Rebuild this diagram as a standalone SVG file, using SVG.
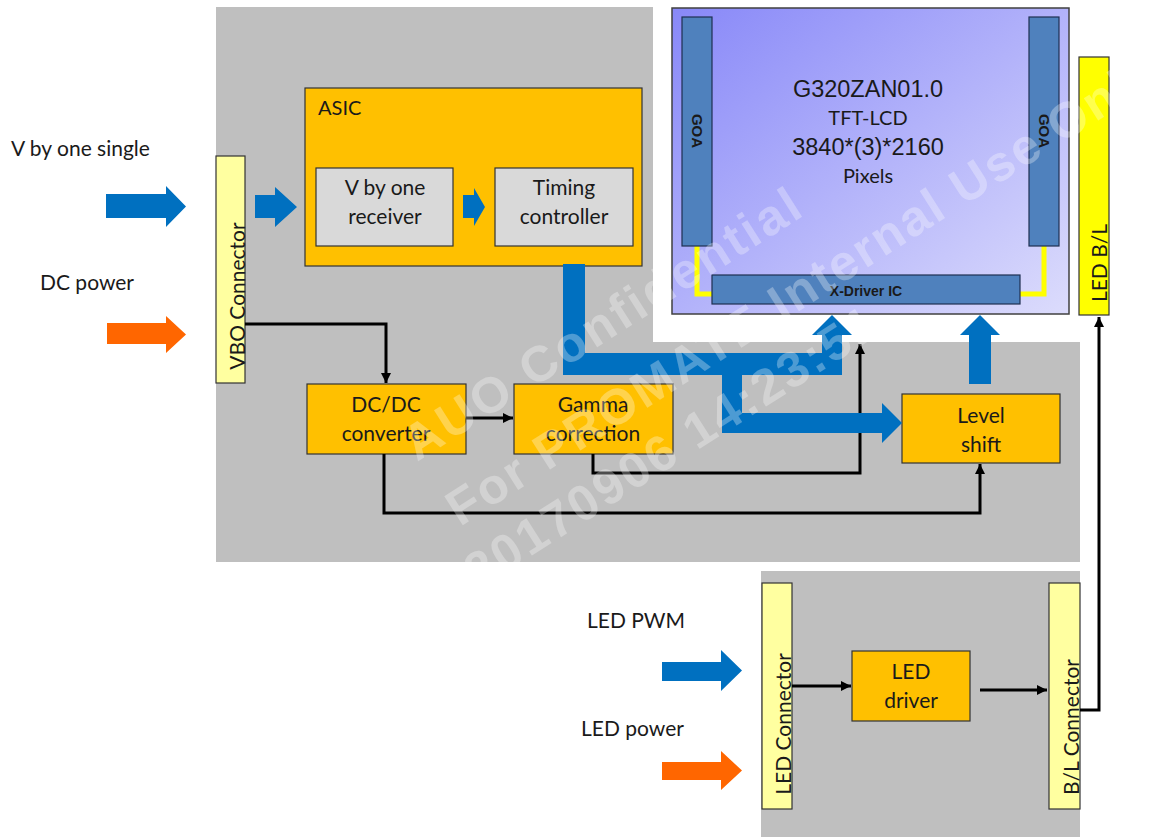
<svg xmlns="http://www.w3.org/2000/svg" width="1172" height="837" viewBox="0 0 1172 837">
<defs>
<linearGradient id="panelGrad" x1="0" y1="0" x2="1" y2="1">
<stop offset="0" stop-color="#8888F8"/>
<stop offset="1" stop-color="#DCDCFC"/>
</linearGradient>
<marker id="ah" markerUnits="userSpaceOnUse" markerWidth="11" markerHeight="11" refX="10" refY="5" orient="auto">
<path d="M0,0 L10,5 L0,10 Z" fill="#000"/>
</marker>
<style>
.bg{fill:#BFBFBF}
.box{fill:#FFC000;stroke:#333;stroke-width:1.2}
.inner{fill:#D9D9D9;stroke:#333;stroke-width:1.2}
.conn{fill:#FFFFA0;stroke:#333;stroke-width:1.2}
.bl{fill:#FFFF00;stroke:#333;stroke-width:1.2}
.goa{fill:#4F81BD;stroke:#1F3050;stroke-width:1.2}
.lbl{font-family:Lato,"Liberation Sans",sans-serif;font-size:21px;fill:#1a1a1a}
.mid{text-anchor:middle}
.ar{font-family:"Liberation Sans",Arial,sans-serif;fill:#1a1a1a;text-anchor:middle}
.sm{font-family:"Liberation Sans",Arial,sans-serif;font-weight:bold;font-size:15px;fill:#1a1a1a;text-anchor:middle}
.wire{fill:none;stroke:#000;stroke-width:3;marker-end:url(#ah)}
.blue{fill:#0070C0}
.orange{fill:#FF6600}
.wm{font-family:"Liberation Sans",Arial,sans-serif;font-weight:bold;font-size:50px;fill:#fff;fill-opacity:0.3}
</style>
</defs>
<rect width="1172" height="837" fill="#fff"/>
<path class="bg" d="M216,7 H653 V342 H1080 V562 H216 Z"/>
<rect class="bg" x="761" y="571" width="319" height="266"/>

<g id="labels">
<text class="lbl" x="11" y="156">V by one single</text>
<text class="lbl" x="40" y="290">DC power</text>
<text class="lbl" x="587" y="628">LED PWM</text>
<text class="lbl" x="581" y="736">LED power</text>
</g>

<g id="vbo-connector">
<rect class="conn" x="216" y="156" width="29" height="227"/>
<text class="lbl mid" transform="translate(245,296) rotate(-90)">VBO Connector</text>
</g>

<g id="asic">
<rect class="box" x="305" y="88" width="337" height="178"/>
<text class="lbl" x="318" y="115" style="font-size:20px">ASIC</text>
</g>
<g id="vbyone-receiver">
<rect class="inner" x="316" y="168" width="137" height="78"/>
<text class="lbl mid" x="385" y="195">V by one</text>
<text class="lbl mid" x="385" y="224">receiver</text>
</g>
<g id="timing-controller">
<rect class="inner" x="495" y="168" width="138" height="78"/>
<text class="lbl mid" x="564" y="195">Timing</text>
<text class="lbl mid" x="564" y="224">controller</text>
</g>

<g id="dcdc">
<rect class="box" x="307" y="384" width="159" height="70"/>
<text class="lbl mid" x="386" y="412">DC/DC</text>
<text class="lbl mid" x="386" y="441">converter</text>
</g>
<g id="gamma">
<rect class="box" x="514" y="384" width="159" height="70"/>
<text class="lbl mid" x="593" y="412">Gamma</text>
<text class="lbl mid" x="593" y="441">correction</text>
</g>
<g id="level-shift">
<rect class="box" x="902" y="394" width="158" height="69"/>
<text class="lbl mid" x="981" y="423">Level</text>
<text class="lbl mid" x="981" y="452">shift</text>
</g>

<g id="panel">
<rect x="672" y="8" width="397" height="306" fill="url(#panelGrad)" stroke="#404040" stroke-width="1.5"/>
<path d="M697,246 V294 H712 M1020,294 H1044 V246" fill="none" stroke="#FFFF00" stroke-width="5"/>
<text class="ar" x="868" y="97" style="font-size:23.5px">G320ZAN01.0</text>
<text class="lbl mid" x="868" y="125" style="font-size:20px">TFT-LCD</text>
<text class="ar" x="868" y="155" style="font-size:23.5px">3840*(3)*2160</text>
<text class="lbl mid" x="868" y="183" style="font-size:20px">Pixels</text>
</g>
<g id="goa-left">
<rect class="goa" x="682" y="17" width="30" height="229"/>
<text class="sm" transform="translate(692,131) rotate(90)">GOA</text>
</g>
<g id="goa-right">
<rect class="goa" x="1029" y="17" width="30" height="229"/>
<text class="sm" transform="translate(1039,131) rotate(90)">GOA</text>
</g>
<g id="x-driver">
<rect class="goa" x="712" y="275" width="308" height="29"/>
<text class="sm" x="866" y="296" style="font-size:14px">X-Driver IC</text>
</g>

<g id="led-bl">
<rect class="bl" x="1079" y="57" width="30" height="258"/>
<text class="lbl mid" transform="translate(1107,263) rotate(-90)">LED B/L</text>
</g>

<g id="led-connector">
<rect class="conn" x="762" y="583" width="30" height="226"/>
<text class="lbl mid" transform="translate(791,724) rotate(-90)">LED Connector</text>
</g>
<g id="led-driver">
<rect class="box" x="852" y="651" width="118" height="70"/>
<text class="lbl mid" x="911" y="679">LED</text>
<text class="lbl mid" x="911" y="708">driver</text>
</g>
<g id="bl-connector">
<rect class="conn" x="1049" y="583" width="31" height="226"/>
<text class="lbl mid" transform="translate(1079,727) rotate(-90)">B/L Connector</text>
</g>

<g id="connectors">
<path class="wire" d="M245,324 H386 V383"/>
<path class="wire" d="M466,418 H513"/>
<path class="wire" d="M384,454 V513 H980 V464"/>
<path class="wire" d="M593,454 V473 H860 V344"/>
<path class="wire" d="M792,686 H851"/>
<path class="wire" d="M980,690 H1047"/>
<path class="wire" d="M1080,710 H1099 V317"/>
<polygon class="blue" points="106,194 166,194 166,186 186,206.5 166,227 166,218 106,218"/>
<polygon class="orange" points="107,323 166,323 166,316 186,334.5 166,353 166,344 107,344"/>
<polygon class="blue" points="255,195 275,195 275,187 297,207 275,227 275,218 255,218"/>
<polygon class="blue" points="463,195 474,195 474,188 485,207 474,226 474,218 463,218"/>
<polygon class="blue" points="563,264 585,264 585,353 822,353 822,335 812,335 832,315 852,335 842,335 842,375 742,375 742,413 882,413 882,403 902,423 882,443 882,433 722,433 722,375 563,375"/>
<polygon class="blue" points="969,384 969,335 960,335 980,315 1000,335 991,335 991,384"/>
<polygon class="blue" points="662,662 721,662 721,650 742,670.5 721,691 721,681 662,681"/>
<polygon class="orange" points="662,762 721,762 721,751 742,770.5 721,790 721,780 662,780"/>
</g>

<g id="watermark">
<text class="wm" transform="translate(417,462) rotate(-32.5)" textLength="460">AUO Confidential</text>
<text class="wm" transform="translate(460,527) rotate(-32.5)" textLength="830">For PROMATE Internal Use Only</text>
<text class="wm" transform="translate(478,590) rotate(-32.5)" textLength="478">20170906 14:23:51</text>
</g>
</svg>
